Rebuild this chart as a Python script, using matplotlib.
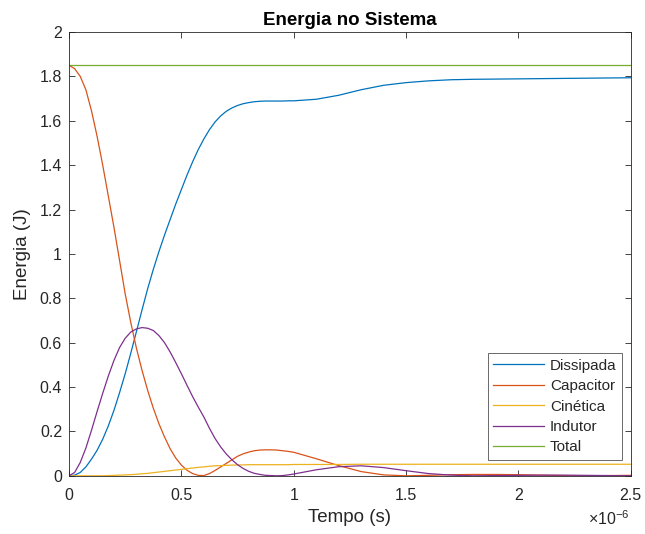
import matplotlib
matplotlib.use("Agg")
import matplotlib.pyplot as plt
from matplotlib.ticker import FuncFormatter

plt.rcParams['font.family'] = ['Liberation Sans', 'DejaVu Sans']
plt.rcParams['mathtext.fontset'] = 'custom'
plt.rcParams['mathtext.rm'] = 'Liberation Sans'

# tempo em microssegundos (eixo mostrado com x10^-6)
tempo = [0, 0.025, 0.05, 0.075, 0.1, 0.125, 0.15, 0.175, 0.2, 0.225,
         0.25, 0.275, 0.3, 0.325, 0.35, 0.375, 0.4, 0.425, 0.45, 0.475,
         0.5, 0.525, 0.55, 0.575, 0.6, 0.625, 0.65, 0.675, 0.7, 0.725,
         0.75, 0.775, 0.8, 0.825, 0.85, 0.875, 0.9, 0.925, 0.95, 0.975,
         1.0, 1.1, 1.2, 1.3, 1.4, 1.5, 1.6, 1.7, 1.8, 1.9,
         2.0, 2.1, 2.2, 2.3, 2.4, 2.5]

dissipada = [0, 0.003, 0.015, 0.04, 0.075, 0.115, 0.165, 0.225, 0.295, 0.375,
             0.46, 0.553, 0.65, 0.748, 0.843, 0.93, 1.01, 1.085, 1.155, 1.225,
             1.29, 1.355, 1.415, 1.47, 1.518, 1.56, 1.595, 1.622, 1.643, 1.658,
             1.669, 1.677, 1.682, 1.686, 1.688, 1.689, 1.689, 1.689, 1.689, 1.69,
             1.69, 1.697, 1.715, 1.74, 1.76, 1.772, 1.78, 1.785, 1.787, 1.788,
             1.789, 1.79, 1.791, 1.792, 1.793, 1.794]

capacitor = [1.85, 1.835, 1.80, 1.74, 1.645, 1.53, 1.40, 1.26, 1.12, 0.97,
             0.82, 0.69, 0.575, 0.475, 0.385, 0.305, 0.235, 0.175, 0.122, 0.08,
             0.048, 0.025, 0.01, 0.002, 0.001, 0.01, 0.024, 0.04, 0.056, 0.072,
             0.088, 0.099, 0.107, 0.113, 0.116, 0.117, 0.117, 0.116, 0.113, 0.11,
             0.106, 0.077, 0.046, 0.019, 0.004, 0.0, 0.002, 0.005, 0.006, 0.006,
             0.005, 0.003, 0.001, 0.0, 0.001, 0.002]

cinetica = [0, 0, 0, 0, 0, 0, 0, 0.001, 0.002, 0.003,
            0.004, 0.005, 0.007, 0.009, 0.011, 0.014, 0.017, 0.02, 0.023, 0.026,
            0.029, 0.032, 0.035, 0.038, 0.04, 0.043, 0.045, 0.046, 0.047, 0.048,
            0.049, 0.049, 0.05, 0.05, 0.05, 0.05, 0.05, 0.05, 0.05, 0.05,
            0.051, 0.051, 0.051, 0.052, 0.052, 0.052, 0.052, 0.052, 0.052, 0.052,
            0.052, 0.052, 0.052, 0.052, 0.052, 0.052]

indutor = [0, 0.015, 0.06, 0.125, 0.205, 0.29, 0.372, 0.45, 0.52, 0.578,
           0.62, 0.648, 0.662, 0.668, 0.665, 0.655, 0.632, 0.6, 0.558, 0.51,
           0.46, 0.408, 0.357, 0.31, 0.265, 0.214, 0.168, 0.13, 0.098, 0.072,
           0.05, 0.033, 0.02, 0.011, 0.006, 0.002, 0.001, 0.0, 0.001, 0.004,
           0.008, 0.027, 0.041, 0.045, 0.037, 0.023, 0.01, 0.003, 0.0, 0.001,
           0.002, 0.003, 0.003, 0.002, 0.001, 0.0]

total = [1.85] * len(tempo)

series = [("Dissipada", dissipada, "#0072BD"),
          ("Capacitor", capacitor, "#D95319"),
          ("Cinética", cinetica, "#EDB120"),
          ("Indutor", indutor, "#7E2F8E"),
          ("Total", total, "#77AC30")]

cinza = (0.15, 0.15, 0.15)

fig = plt.figure(figsize=(6.45, 5.34), dpi=100)
ax = fig.add_axes([0.107, 0.109, 0.871, 0.831])

for nome, valores, cor in series:
    ax.plot(tempo, valores, color=cor, lw=0.9, label=nome)

ax.set_xlim(0, 2.5)
ax.set_ylim(0, 2)
ax.set_xticks([0, 0.5, 1, 1.5, 2, 2.5])
ax.set_yticks([0, 0.2, 0.4, 0.6, 0.8, 1, 1.2, 1.4, 1.6, 1.8, 2])
ax.xaxis.set_major_formatter(FuncFormatter(lambda v, p: f"{v:g}"))
ax.yaxis.set_major_formatter(FuncFormatter(lambda v, p: f"{v:g}"))

ax.tick_params(direction='in', top=True, right=True, length=4, width=0.6,
               colors=cinza, labelsize=11.5, pad=5)
ax.tick_params(axis='x', pad=9)
for lado in ax.spines.values():
    lado.set_color(cinza)
    lado.set_linewidth(0.6)

ax.set_xlabel("Tempo (s)", fontsize=13.5, color=cinza, labelpad=4)
ax.set_ylabel("Energia (J)", fontsize=13.5, color=cinza, labelpad=6)
ax.set_title("Energia no Sistema", fontsize=13.5, fontweight='bold', pad=5)
ax.text(0.997, -0.075, r"$\times10^{-6}$", transform=ax.transAxes, ha='right',
        va='top', fontsize=11.5, color=cinza)

leg = ax.legend(loc='lower right', bbox_to_anchor=(0.984, 0.036), fontsize=11,
                frameon=True, fancybox=False, borderpad=0.35, labelspacing=0.42,
                handlelength=3.3, handletextpad=0.4, borderaxespad=0)
leg.get_frame().set_edgecolor(cinza)
leg.get_frame().set_linewidth(0.6)
for t in leg.get_texts():
    t.set_color(cinza)

fig.savefig("out.png", dpi=100, facecolor='white')
